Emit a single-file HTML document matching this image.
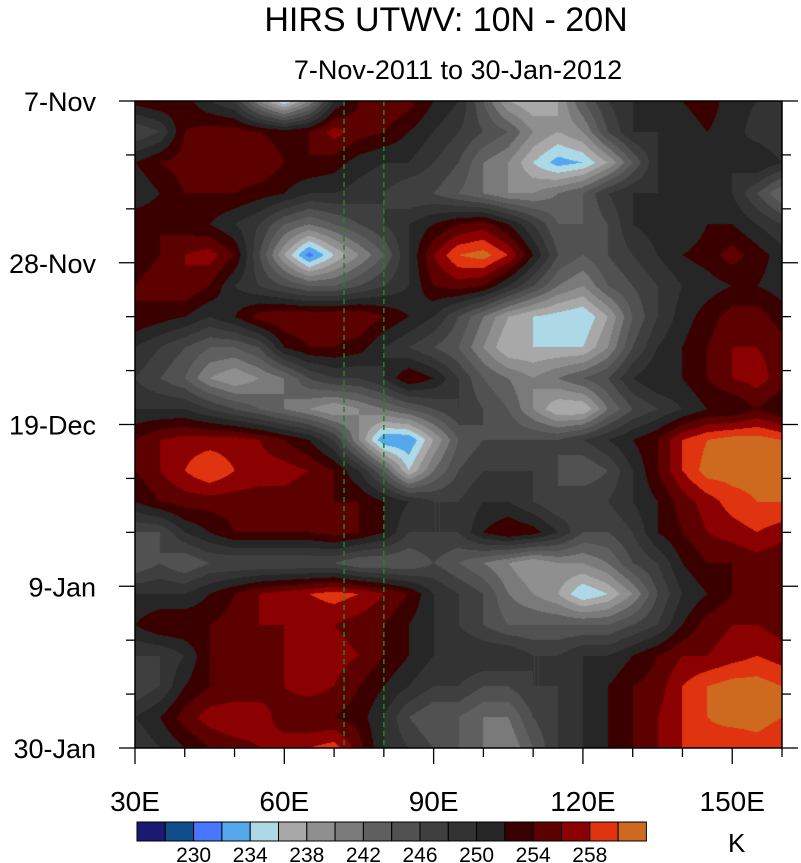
<!DOCTYPE html>
<html><head><meta charset="utf-8"><style>
body{margin:0;background:#fff;}
#wrap{position:relative;width:801px;height:863px;overflow:hidden;font-family:"Liberation Sans",sans-serif;}
canvas{position:absolute;left:135px;top:101px;}
svg{position:absolute;left:0;top:0;}
</style></head><body>
<div id="wrap">
<canvas id="cv" width="647" height="647"></canvas>
<svg id="sv" width="801" height="863">
<text x="446" y="31" font-size="34" text-anchor="middle">HIRS UTWV: 10N - 20N</text>
<text x="458" y="79" font-size="27" text-anchor="middle">7-Nov-2011 to 30-Jan-2012</text>
<text x="728" y="852" font-size="26">K</text>
</svg>
</div>
<script>
const lons=[30,35,40,45,50,55,60,65,70,75,80,85,90,95,100,105,110,115,120,125,130,135,140,145,150,155,160];
const days=[0,4,8,12,16,20,24,28,32,36,40,44,48,52,56,60,64,68,72,76,80,84];
const grid=[
[253,254,253,250,248,240,234,240,250,254,256,255,252,250,244,238,236,238,244,248,250,252,252,253,251,250,248],
[246,248,254,255,255,254,253,254,257,255,254,252,250,248,246,244,240,238,240,246,250,250,251,252,251,249,248],
[252,254,255,254,256,256,254,254,253,251,250,250,248,246,242,240,236,233,234,238,244,250,250,251,250,252,250],
[250,252,254,254,254,253,252,250,250,249,248,246,246,244,242,240,240,242,244,248,250,250,251,251,250,246,242],
[254,254,253,252,250,248,244,242,244,246,248,250,252,254,255,252,248,244,244,246,250,251,250,252,252,250,248],
[253,254,256,257,254,246,238,231,236,240,244,250,256,260,261,258,252,246,244,246,248,250,252,253,255,253,251],
[254,255,256,254,250,248,246,244,244,246,248,250,254,255,254,250,246,242,240,244,246,248,250,251,252,252,251],
[254,253,252,250,252,255,256,256,256,256,254,252,250,246,242,238,236,235,234,238,244,248,251,253,255,255,253],
[250,248,246,244,244,246,252,254,254,253,250,248,246,244,240,236,236,236,236,240,246,250,252,254,256,256,255],
[248,246,244,240,238,240,242,246,248,248,250,254,252,248,244,242,240,242,244,246,250,252,252,254,256,257,255],
[250,250,250,248,246,244,242,240,238,240,242,244,246,248,246,244,240,236,236,242,246,248,250,252,252,254,252],
[254,256,257,257,257,256,254,252,248,240,232,232,238,244,246,246,246,246,248,250,252,254,258,260,261,261,260],
[254,256,258,260,258,257,257,256,254,250,244,236,242,246,248,248,248,246,244,246,250,254,258,261,261,261,261],
[252,254,255,255,255,255,255,254,254,254,252,250,248,248,250,250,248,246,248,248,250,252,255,257,259,260,260],
[246,246,250,252,254,254,254,254,255,254,252,248,248,248,252,254,253,250,246,246,248,252,254,256,257,258,257],
[244,246,244,246,246,246,246,246,246,244,244,244,246,244,242,240,238,240,240,242,246,248,252,254,254,255,254],
[250,250,250,252,254,256,257,258,259,258,256,254,250,248,246,242,240,238,234,236,240,246,250,252,254,255,254],
[252,254,254,254,255,256,256,256,256,255,254,252,250,248,246,244,244,244,244,244,246,248,252,255,256,256,255],
[248,248,250,254,254,255,256,256,257,256,254,252,250,250,250,250,248,248,250,250,252,254,256,256,257,258,257],
[246,248,252,254,254,255,256,257,256,254,252,250,248,248,246,246,248,248,250,252,254,255,258,260,261,261,260],
[250,252,255,257,258,257,255,254,254,253,250,246,244,244,242,242,246,248,250,252,254,256,258,260,261,261,260],
[248,250,252,254,255,256,257,258,259,255,250,248,246,244,242,240,244,248,250,252,254,256,258,259,258,259,258]
];
const levels=[228,230,232,234,236,238,240,242,244,246,248,250,252,254,256,258,260];
const colors=["#1a1a72","#104e8b","#4876ff","#56a8ec","#add8e6","#a8a8a8","#8f8f8f","#7a7a7a","#5f5f5f","#515151","#3f3f3f","#333333","#262626","#3a0000","#5c0000","#8b0000","#e0330f","#cd6a1f"];
const cbLabels=[230,234,238,242,246,250,254,258];
const xTicks=[30,60,90,120,150];const xTickLabels=["30E","60E","90E","120E","150E"];
const yTicks=[0,21,42,63,84];const yTickLabels=["7-Nov","28-Nov","19-Dec","9-Jan","30-Jan"];
const refLons=[72,80];

const X0=135,X1=782,Y0=101,Y1=748,LON0=30,LON1=160,D0=0,D1=84;
const xs=l=>X0+(l-LON0)/(LON1-LON0)*(X1-X0);
const ys=d=>Y0+(d-D0)/(D1-D0)*(Y1-Y0);
function hex(c){return [parseInt(c.substr(1,2),16),parseInt(c.substr(3,2),16),parseInt(c.substr(5,2),16)];}
const rgb=colors.map(hex);
function bin(v){let i=0;while(i<levels.length&&v>=levels[i])i++;return i;}
function interp(arr,v){let i=0;while(i<arr.length-2&&v>arr[i+1])i++;return [i,Math.max(0,Math.min(1,(v-arr[i])/(arr[i+1]-arr[i])))];}
const cv=document.getElementById('cv'),ctx=cv.getContext('2d');
const W=cv.width,H=cv.height,img=ctx.createImageData(W,H);
for(let py=0;py<H;py++){
 const d=D0+(py+0.5)/H*(D1-D0);const [j,ty]=interp(days,d);
 for(let px=0;px<W;px++){
  const l=LON0+(px+0.5)/W*(LON1-LON0);const [i,tx]=interp(lons,l);
  const v=(grid[j][i]*(1-tx)+grid[j][i+1]*tx)*(1-ty)+(grid[j+1][i]*(1-tx)+grid[j+1][i+1]*tx)*ty;
  const c=rgb[bin(v)];const k=(py*W+px)*4;
  img.data[k]=c[0];img.data[k+1]=c[1];img.data[k+2]=c[2];img.data[k+3]=255;
 }
}
ctx.putImageData(img,0,0);

const NS="http://www.w3.org/2000/svg",sv=document.getElementById('sv');
function mk(t,a){const e=document.createElementNS(NS,t);for(const k in a)e.setAttribute(k,a[k]);sv.appendChild(e);return e;}
refLons.forEach(l=>{const e=mk('line',{x1:xs(l),x2:xs(l),y1:Y0,y2:Y1,stroke:'#1a8a1a','stroke-width':1.5,'stroke-dasharray':'5,4'});

});
const fr=mk('rect',{x:X0,y:Y0,width:X1-X0,height:Y1-Y0,fill:'none',stroke:'#000','stroke-width':1.5});


for(let d=0;d<=84;d+=7){const maj=yTicks.includes(d);const len=maj?16:9;
 mk('line',{x1:X0-len,x2:X0,y1:ys(d),y2:ys(d),stroke:'#000','stroke-width':1.3});
 mk('line',{x1:X1,x2:X1+len,y1:ys(d),y2:ys(d),stroke:'#000','stroke-width':1.3});}
for(let l=30;l<=160;l+=10){const maj=xTicks.includes(l);const len=maj?16:9;
 mk('line',{x1:xs(l),x2:xs(l),y1:Y1,y2:Y1+len,stroke:'#000','stroke-width':1.3});}
yTicks.forEach((d,i)=>{const t=mk('text',{x:96,y:ys(d)+10,'font-size':27,'text-anchor':'end'});t.textContent=yTickLabels[i];

});
xTicks.forEach((l,i)=>{const t=mk('text',{x:xs(l),y:811,'font-size':28,'text-anchor':'middle'});t.textContent=xTickLabels[i];

});
const CB0=137,CBW=28.3,CBY=822,CBH=19;
colors.forEach((c,i)=>{const r=mk('rect',{x:CB0+i*CBW,y:CBY,width:CBW,height:CBH,fill:c,stroke:'#000','stroke-width':1});

});
cbLabels.forEach(v=>{const idx=levels.indexOf(v)+1;const t=mk('text',{x:CB0+idx*CBW,y:862,'font-size':21,'text-anchor':'middle'});t.textContent=v;

});
</script>
</body></html>
